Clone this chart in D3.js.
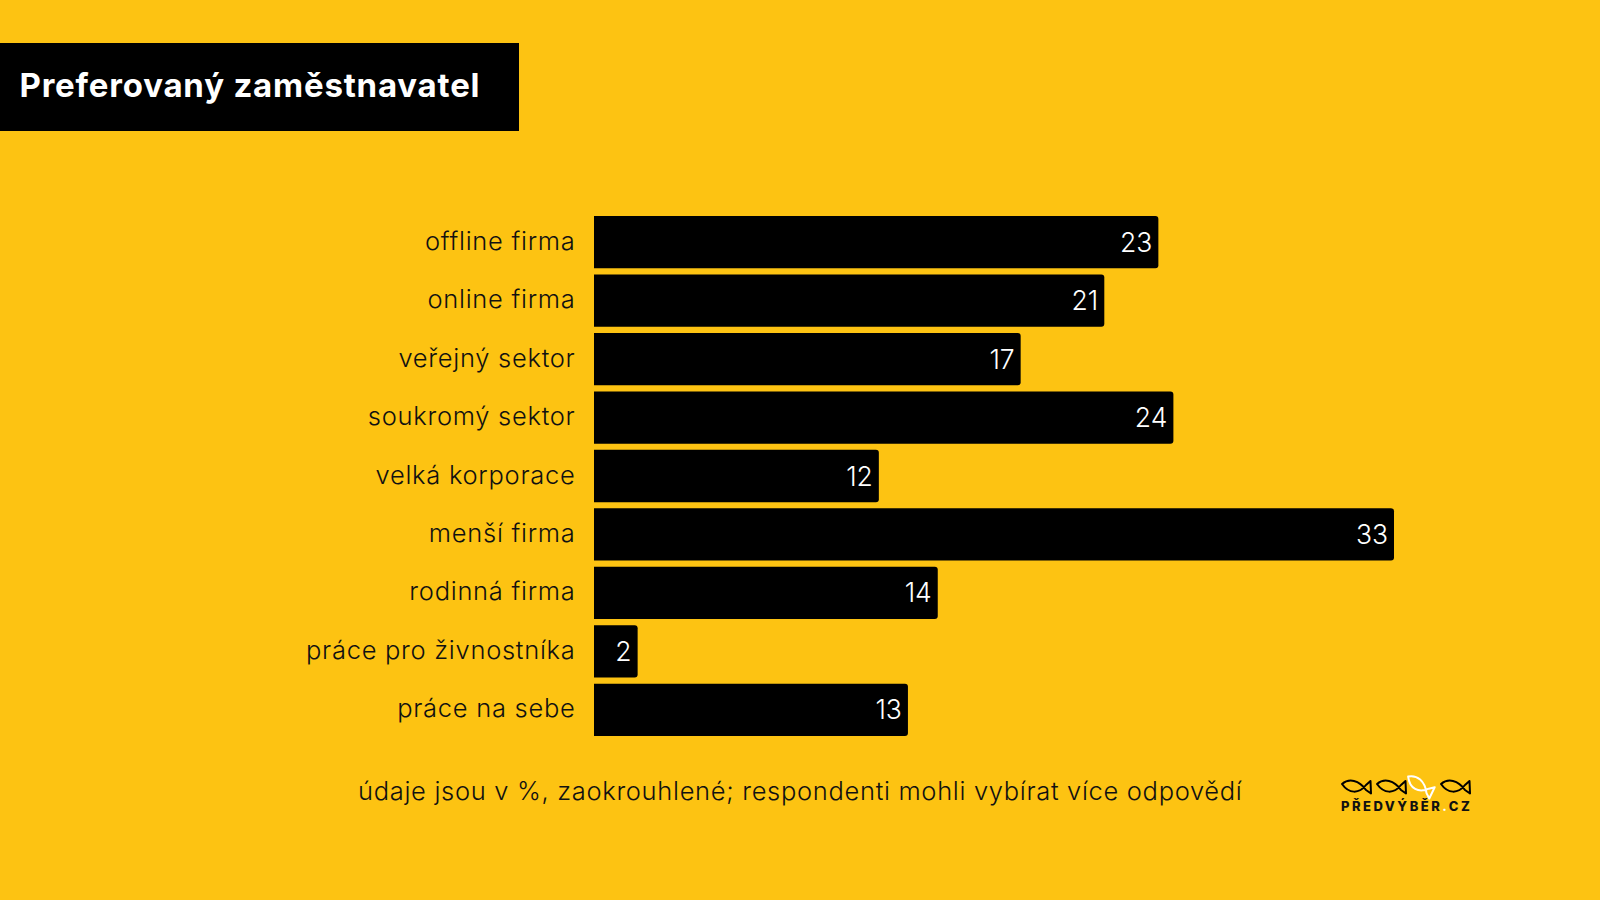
<!DOCTYPE html>
<html lang="cs"><head><meta charset="utf-8">
<script src="https://cdn.jsdelivr.net/npm/d3@7"></script>
<style>html,body{margin:0;padding:0;background:#fdc312;overflow:hidden}svg{display:block}text{font-family:Inter,"Open Sans",sans-serif}</style>
</head><body><svg id="c" width="1600" height="900"></svg>
<script>
const title = "Preferovaný zaměstnavatel";
const footnote = "údaje jsou v %, zaokrouhlené; respondenti mohli vybírat více odpovědí";
const categories = ["offline firma","online firma","veřejný sektor","soukromý sektor","velká korporace","menší firma","rodinná firma","práce pro živnostníka","práce na sebe"];
const barValues = [23.28,21.05,17.6,23.9,11.75,33,14.18,1.8,12.95];
const valueLabels = ["23","21","17","24","12","33","14","2","13"];
const logoParts = ["PŘEDVÝBĚR",".","CZ"];
const fishColors = ["#000","#000","#fff","#000"];

const svg = d3.select("#c");
const x = d3.scaleLinear().domain([0,33]).range([594,1394]);
const y = d3.scaleBand().domain(categories).range([216,736]).paddingInner(0.105);

svg.append("rect").attr("width",1600).attr("height",900).attr("fill","#fdc312");
svg.append("rect").attr("x",0).attr("y",43).attr("width",519).attr("height",88).attr("fill","#000");
svg.append("text").text(title).attr("x",19.5).attr("y",97).attr("fill","#fff")
  .attr("font-size",33).attr("font-weight",700).attr("letter-spacing",0.8);

const rows = categories.map((c,i)=>({c,v:barValues[i],l:valueLabels[i]}));
const barPath = d => {
  const x0=x(0), x1=x(d.v), t=y(d.c), b=t+y.bandwidth(), r=3;
  const p=d3.path();
  p.moveTo(x0,t); p.lineTo(x1-r,t); p.quadraticCurveTo(x1,t,x1,t+r);
  p.lineTo(x1,b-r); p.quadraticCurveTo(x1,b,x1-r,b); p.lineTo(x0,b); p.closePath();
  return p.toString();
};
svg.append("g").selectAll("path").data(rows).join("path").attr("d",barPath).attr("fill","#000");
svg.append("g").selectAll("text").data(rows).join("text")
  .text(d=>d.l).attr("x",d=>x(d.v)-6).attr("y",d=>y(d.c)+y.bandwidth()/2+9.5)
  .attr("text-anchor","end").attr("fill","#fff").attr("font-size",26.5).attr("font-weight",300);
svg.append("g").selectAll("text").data(rows).join("text")
  .text(d=>d.c).attr("x",575.5).attr("y",d=>y(d.c)+y.bandwidth()/2+7.5)
  .attr("text-anchor","end").attr("fill","#111").attr("font-size",25.5).attr("font-weight",300).attr("letter-spacing",0.72);
svg.append("text").text(footnote).attr("x",358).attr("y",800).attr("fill","#111")
  .attr("font-size",25.5).attr("font-weight",300).attr("letter-spacing",0.68);

// logo
const fish = "M0 4 C7 -2 17 0 24 10 L29 13.5 L28.5 1 L24 5 C17 14 7 14 0 4 Z";
const fx = [1342,1377,1410,1441], fy=[780,780,773,780], fr=[0,0,28,0];
svg.append("g").selectAll("path").data(fishColors).join("path").attr("d",fish)
  .attr("transform",(d,i)=>`translate(${fx[i]},${fy[i]}) rotate(${fr[i]})`)
  .attr("fill","none").attr("stroke",d=>d).attr("stroke-width",2).attr("stroke-linejoin","round");
const lt = svg.append("text").attr("x",1341).attr("y",811).attr("font-size",13).attr("font-weight",800).attr("letter-spacing",2.5);
lt.selectAll("tspan").data(logoParts).join("tspan").text(d=>d).attr("fill",d=>d==="."?"#fff":"#111");
</script></body></html>
